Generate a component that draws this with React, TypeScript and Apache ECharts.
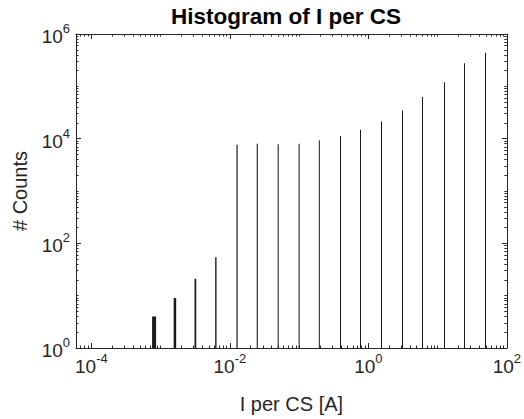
import React, { useEffect, useRef } from "react";
import * as echarts from "echarts";

// ---- data ----
const binCenters = [
  8.05e-4, 1.61e-3, 3.18e-3, 6.28e-3, 0.0127, 0.0249, 0.0499, 0.1, 0.196,
  0.394, 0.781, 1.55, 3.11, 6.11, 12.4, 24.8, 48.7,
];
const counts = [
  4, 9, 21, 54, 7690, 8030, 7780, 8030, 9290, 11250, 14840, 21360, 34600,
  62300, 120000, 277000, 440000,
];
const binWidth = 8e-5;
const xMin = 6e-5;
const xMax = 100;
const yMin = 1;
const yMax = 1e6;
const xMajorTicks = [1e-4, 1e-2, 1, 100];
const yMajorTicks = [1, 1e2, 1e4, 1e6];
const titleText = "Histogram of I per CS";
const xAxisName = "I per CS [A]";
const yAxisName = "# Counts";

function minorTicks(lo: number, hi: number, majors: number[]) {
  const out: number[] = [];
  for (let e = Math.floor(Math.log10(lo)); e <= Math.ceil(Math.log10(hi)); e++) {
    for (let k = 1; k <= 9; k++) {
      const v = k * Math.pow(10, e);
      if (v < lo * 0.999 || v > hi * 1.001) continue;
      if (majors.some((m) => Math.abs(m - v) / m < 1e-6)) continue;
      out.push(v);
    }
  }
  return out;
}

const FONT = "Liberation Sans, Arial, Helvetica, sans-serif";
const AX = "#262626";

const expLabel = (v: number) => {
  const e = Math.round(Math.log10(v));
  return `{b|10}{s|${e}}`;
};
const rich = {
  b: { fontSize: 19, lineHeight: 24, verticalAlign: "bottom", fontFamily: FONT, color: AX },
  s: { fontSize: 13, lineHeight: 12, verticalAlign: "top", fontFamily: FONT, color: AX },
};

export default function App() {
  const ref = useRef<HTMLDivElement>(null);
  useEffect(() => {
    if (!ref.current) return;
    const chart = echarts.init(ref.current, null, { renderer: "svg" });
    const xMinor = minorTicks(xMin, xMax, xMajorTicks);
    const yMinor = minorTicks(yMin, yMax, yMajorTicks);

    const xBase = {
      type: "log" as const,
      min: xMin,
      max: xMax,
      gridIndex: 0,
      splitLine: { show: false },
      minorTick: { show: false },
    };
    const yBase = {
      type: "log" as const,
      min: yMin,
      max: yMax,
      gridIndex: 0,
      splitLine: { show: false },
      minorTick: { show: false },
    };
    const line = { show: true, lineStyle: { color: AX, width: 1 } };
    const noLine = { show: false };

    chart.setOption({
      animation: false,
      backgroundColor: "#ffffff",
      graphic: [
        {
          type: "text",
          x: 286,
          y: 16,
          style: {
            text: titleText,
            font: `bold 22.5px ${FONT}`,
            fill: "#000",
            align: "center",
            verticalAlign: "middle",
          },
        },
      ],
      grid: { left: 76, top: 34, right: 16, bottom: 70, containLabel: false },
      xAxis: [
        {
          ...xBase,
          position: "bottom",
          axisLine: line,
          axisTick: { show: true, inside: true, length: 5, customValues: xMajorTicks, lineStyle: { color: AX } },
          axisLabel: {
            show: true,
            customValues: xMajorTicks,
            formatter: expLabel,
            rich,
            margin: 4,
          },
          name: xAxisName,
          nameLocation: "middle",
          nameGap: 46,
          nameTextStyle: { fontSize: 20, fontFamily: FONT, color: AX },
        },
        {
          ...xBase,
          position: "bottom",
          axisLine: noLine,
          axisTick: { show: true, inside: true, length: 2.5, customValues: xMinor, lineStyle: { color: AX } },
          axisLabel: { show: false },
        },
        {
          ...xBase,
          position: "top",
          axisLine: line,
          axisTick: { show: true, inside: true, length: 5, customValues: xMajorTicks, lineStyle: { color: AX } },
          axisLabel: { show: false },
        },
        {
          ...xBase,
          position: "top",
          axisLine: noLine,
          axisTick: { show: true, inside: true, length: 2.5, customValues: xMinor, lineStyle: { color: AX } },
          axisLabel: { show: false },
        },
      ],
      yAxis: [
        {
          ...yBase,
          position: "left",
          axisLine: line,
          axisTick: { show: true, inside: true, length: 5, customValues: yMajorTicks, lineStyle: { color: AX } },
          axisLabel: {
            show: true,
            customValues: yMajorTicks,
            formatter: expLabel,
            rich,
            margin: 6,
          },
          name: yAxisName,
          nameLocation: "middle",
          nameGap: 46,
          nameTextStyle: { fontSize: 20, fontFamily: FONT, color: AX },
        },
        {
          ...yBase,
          position: "left",
          axisLine: noLine,
          axisTick: { show: true, inside: true, length: 2.5, customValues: yMinor, lineStyle: { color: AX } },
          axisLabel: { show: false },
        },
        {
          ...yBase,
          position: "right",
          axisLine: line,
          axisTick: { show: true, inside: true, length: 5, customValues: yMajorTicks, lineStyle: { color: AX } },
          axisLabel: { show: false },
        },
        {
          ...yBase,
          position: "right",
          axisLine: noLine,
          axisTick: { show: true, inside: true, length: 2.5, customValues: yMinor, lineStyle: { color: AX } },
          axisLabel: { show: false },
        },
      ],
      series: [
        {
          type: "custom",
          xAxisIndex: 0,
          yAxisIndex: 0,
          data: binCenters.map((x, i) => [x, counts[i]]),
          renderItem: (params: any, api: any) => {
            const x = api.value(0);
            const y = api.value(1);
            const pL = api.coord([x - binWidth / 2, y]);
            const pR = api.coord([x + binWidth / 2, yMin]);
            const c = api.coord([x, y])[0];
            const w = Math.max(1, pR[0] - pL[0] + 1);
            let x0 = c - w / 2;
            if (w <= 1.01) x0 = Math.round(c - 0.5);
            return {
              type: "rect",
              shape: { x: x0, y: pL[1], width: w, height: pR[1] - pL[1] },
              style: { fill: "#1a1a1a" },
            };
          },
        },
      ],
    });
    return () => chart.dispose();
  }, []);
  return (
    <div
      ref={ref}
      style={{ position: "fixed", left: 0, top: 0, width: 524, height: 419 }}
    />
  );
}
